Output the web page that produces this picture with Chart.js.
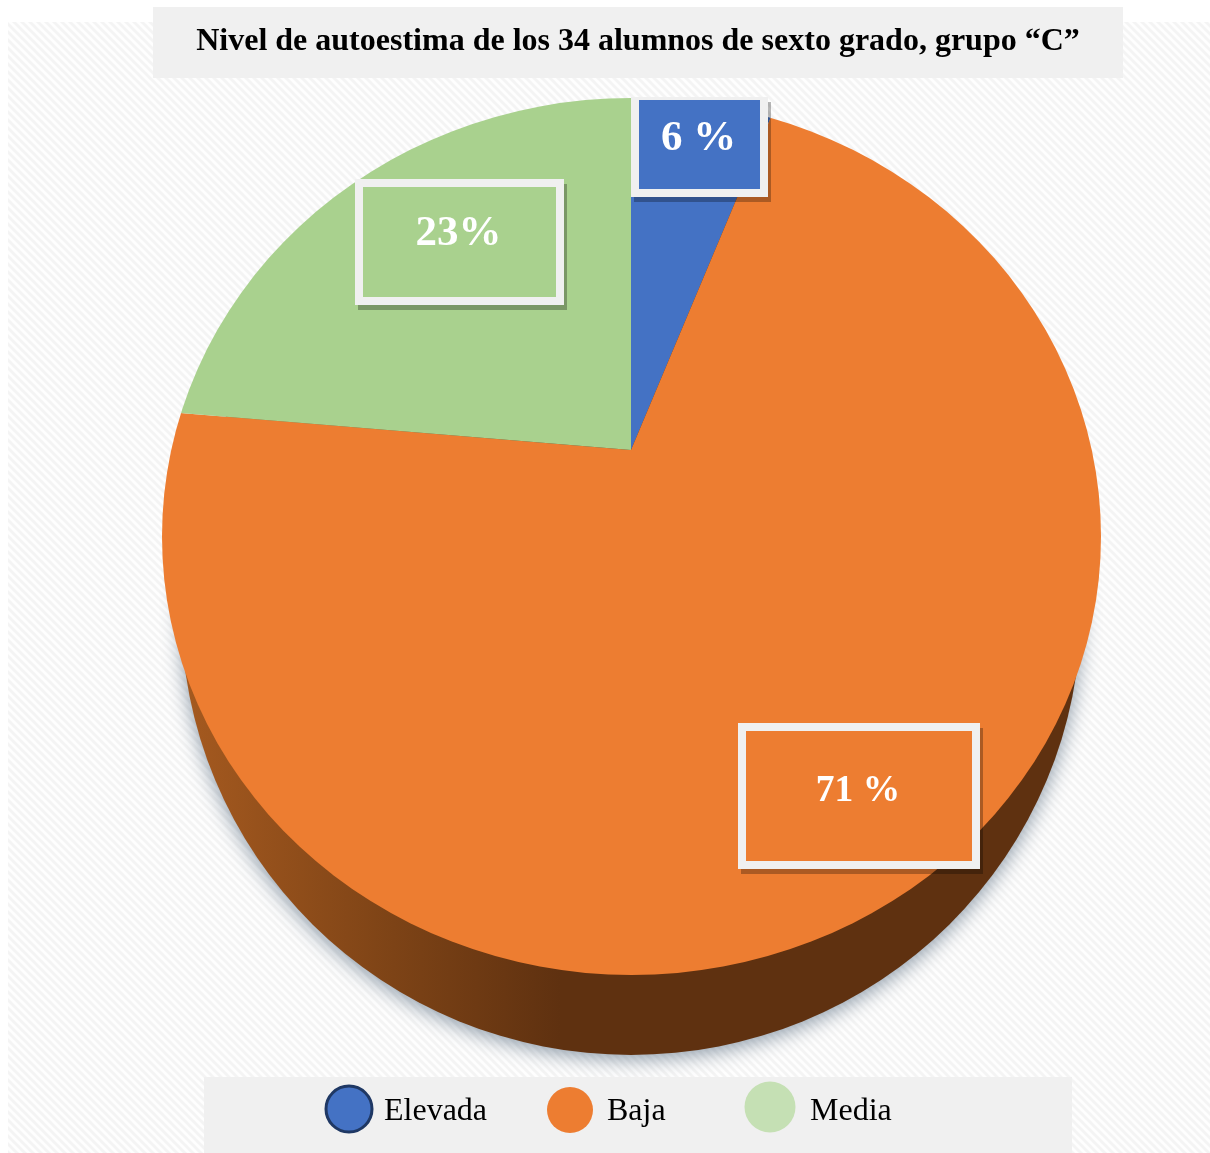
<!DOCTYPE html>
<html lang="es">
<head>
<meta charset="utf-8">
<title>Nivel de autoestima</title>
<script src="https://cdn.jsdelivr.net/npm/chart.js@4/dist/chart.umd.min.js"></script>
<style>
  html, body { margin: 0; padding: 0; background: #fff; overflow: hidden; }
  canvas { display: block; }
</style>
</head>
<body>
<canvas id="pie" width="1210" height="1153"></canvas>
<script>
const chartTitle = 'Nivel de autoestima de los 34 alumnos de sexto grado, grupo “C”';
const categories = ['Elevada', 'Baja', 'Media'];
const percentages = [6, 71, 23];
const valueUnits = [' %', ' %', '%'];
const sliceColors = ['#4472c4', '#ed7d31', '#a9d18e'];

const serif = '"Liberation Serif", "Times New Roman", serif';

// Tilted disc: the wedges fan out from an apex above the centre of the top face.
const apex = { x: 631, y: 450 };
const tilt = { skew: -0.0352, squash: 0.928 };
const topFace = { cx: 631.5, cy: 536.5, rx: 469.5, ry: 438.5 };
const baseFace = { cx: 631, cy: 610, rx: 450, ry: 445 };

// Value boxes, one per slice.
const valueBoxes = [
  { l: 631, t: 97,  r: 768, b: 197, top: 3, textX: 698.5, base: 150, size: 43 },
  { l: 738, t: 723, r: 980, b: 869, top: 8, textX: 858, base: 801, size: 37.5 },
  { l: 355, t: 179, r: 564, b: 305, top: 8, textX: 458.5, base: 245, size: 43 }
];

// Legend keys, one per category.
const legendKeys = [
  { x: 349, y: 1109, r: 23, fill: '#4472c4', stroke: '#1f3864', textX: 384 },
  { x: 570, y: 1110, r: 23, fill: '#ed7d31', stroke: null, textX: 607 },
  { x: 770, y: 1107, r: 25.5, fill: '#c5e0b4', stroke: null, textX: 810 }
];

function hatchPattern(ctx) {
  const size = 8;
  const tile = document.createElement('canvas');
  tile.width = tile.height = size;
  const t = tile.getContext('2d');
  t.fillStyle = '#fefefe';
  t.fillRect(0, 0, size, size);
  t.strokeStyle = '#f4f4f4';
  t.lineWidth = 3;
  [-size, 0, size].forEach(d => {
    t.beginPath();
    t.moveTo(d - 1, -1);
    t.lineTo(d + size + 1, size + 1);
    t.stroke();
  });
  return ctx.createPattern(tile, 'repeat');
}

function ellipsePath(ctx, e) {
  ctx.beginPath();
  ctx.ellipse(e.cx, e.cy, e.rx, e.ry, 0, 0, Math.PI * 2);
}

const discPlugin = {
  id: 'disc',
  afterLayout(chart) {
    chart.titleBlock.left += 7;
    chart.titleBlock.right += 7;
  },
  beforeDraw(chart) {
    const ctx = chart.ctx;
    ctx.save();
    ctx.fillStyle = hatchPattern(ctx);
    ctx.fillRect(8, 22, 1202, 1131);
    ctx.fillStyle = '#f0f0f0';
    ctx.fillRect(153, 7, 970, 71);
    ctx.restore();
  },
  beforeDatasetsDraw(chart) {
    const ctx = chart.ctx;
    ctx.save();
    // Side wall with its soft drop shadow.
    const wall = ctx.createLinearGradient(190, 0, 560, 0);
    wall.addColorStop(0, '#a4591f');
    wall.addColorStop(0.55, '#7d4316');
    wall.addColorStop(1, '#5f3110');
    ctx.shadowColor = 'rgba(90,110,130,0.7)';
    ctx.shadowBlur = 20;
    ctx.shadowOffsetX = 0;
    ctx.shadowOffsetY = 4;
    ctx.fillStyle = wall;
    ellipsePath(ctx, baseFace);
    ctx.fill();
    ctx.restore();
    // The legend band sits above the wall's shadow.
    ctx.fillStyle = '#f0f0f0';
    ctx.fillRect(204, 1077, 868, 76);
    // Wedges are cut to the outline of the top face and tilted about the apex.
    ctx.save();
    ellipsePath(ctx, topFace);
    ctx.clip();
    ctx.translate(apex.x, apex.y);
    ctx.transform(1, tilt.skew, 0, tilt.squash, 0, 0);
    ctx.translate(-apex.x, -apex.y);
  },
  afterDatasetsDraw(chart) {
    const ctx = chart.ctx;
    ctx.restore();
    ctx.save();
    const values = chart.data.datasets[0].data;
    values.forEach((value, i) => {
      const b = valueBoxes[i];
      ctx.fillStyle = 'rgba(0,0,0,0.28)';
      ctx.fillRect(b.l + 3, b.t + 5, b.r - b.l, b.b - b.t);
      ctx.fillStyle = '#f0f0f0';
      ctx.fillRect(b.l, b.t, b.r - b.l, b.b - b.t);
      ctx.fillStyle = sliceColors[i];
      ctx.fillRect(b.l + 8, b.t + b.top, b.r - b.l - 16, b.b - b.t - b.top - 8);
      ctx.fillStyle = '#ffffff';
      ctx.font = `bold ${b.size}px ${serif}`;
      ctx.textAlign = 'center';
      ctx.textBaseline = 'alphabetic';
      ctx.fillText(value + valueUnits[i], b.textX, b.base);
    });
    chart.data.labels.forEach((label, i) => {
      const k = legendKeys[i];
      ctx.beginPath();
      ctx.arc(k.x, k.y, k.r, 0, Math.PI * 2);
      ctx.fillStyle = k.fill;
      ctx.fill();
      if (k.stroke) {
        ctx.lineWidth = 3;
        ctx.strokeStyle = k.stroke;
        ctx.stroke();
      }
      ctx.fillStyle = '#000000';
      ctx.font = `32px ${serif}`;
      ctx.textAlign = 'left';
      ctx.textBaseline = 'alphabetic';
      ctx.fillText(label, k.textX, 1120);
    });
    ctx.restore();
  }
};

new Chart(document.getElementById('pie'), {
  type: 'pie',
  data: {
    labels: categories,
    datasets: [{
      data: percentages,
      backgroundColor: sliceColors,
      borderWidth: 0,
      radius: 660,
      clip: false
    }]
  },
  options: {
    responsive: false,
    animation: false,
    layout: { padding: { left: 52, right: 0, top: 0, bottom: 314.4 } },
    plugins: {
      legend: { display: false },
      tooltip: { enabled: false },
      title: {
        display: true,
        text: chartTitle,
        color: '#000000',
        align: 'center',
        font: { family: serif, size: 32, weight: 'bold', lineHeight: 1.2 },
        padding: { top: 23, bottom: 0 }
      }
    }
  },
  plugins: [discPlugin]
});
</script>
</body>
</html>
